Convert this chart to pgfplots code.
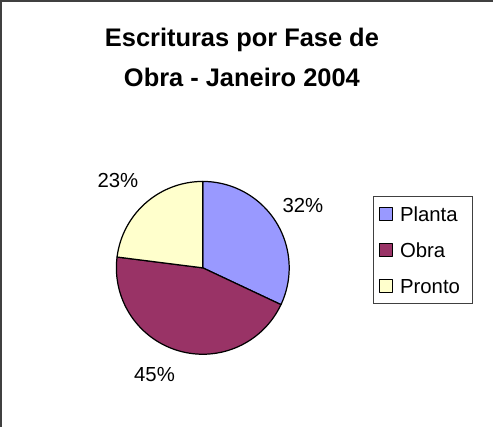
\documentclass[border=0pt]{standalone}
\usepackage{pgfplots}
\pgfplotsset{compat=1.18}
\usepackage{fontspec}
\setmainfont{Liberation Sans}

\begin{document}
\begin{tikzpicture}

	\definecolor{planta}{RGB}{153,153,255}
	\definecolor{obra}{RGB}{153,51,102}
	\definecolor{pronto}{RGB}{255,255,204}
	\definecolor{framegray}{RGB}{64,64,64}

	\begin{axis}[
		width=494pt, height=433pt, scale only axis,
		xmin=0, xmax=494, ymin=0, ymax=433,
		hide axis, clip=false,
		legend style={
			at={(0.7611,0.5312)}, anchor=north west,
			draw=framegray, line width=0.8pt,
			font=\fontsize{20}{24}\selectfont,
			inner xsep=5pt, inner ysep=8pt,
			row sep=17pt,
			nodes={inner ysep=2pt, inner xsep=7pt, text height=14.5pt, text depth=0pt},
			cells={anchor=west}
		},
		legend image code/.code={
			\draw[#1, draw=black, line width=1.2pt] (2pt,-6.5pt) rectangle (15pt,6.5pt);
		}
	]
	% pie: centre (208.5,159.5), radius 85, start at 12 o'clock, clockwise
	% Planta 32% -> 115.2 deg, Obra 45% -> 162 deg, Pronto 23% -> 82.8 deg
	\addplot [fill=planta, draw=black, line width=1.2pt, line join=round,
		domain=-25.2:90, samples=80, variable=\t]
		({208.5+85*cos(t)}, {159.5+85*sin(t)}) -- (axis cs:208.5,159.5) -- cycle;
	\addlegendentry{Planta}
	\addplot [fill=obra, draw=black, line width=1.2pt, line join=round,
		domain=-187.2:-25.2, samples=100, variable=\t]
		({208.5+85*cos(t)}, {159.5+85*sin(t)}) -- (axis cs:208.5,159.5) -- cycle;
	\addlegendentry{Obra}
	\addplot [fill=pronto, draw=black, line width=1.2pt, line join=round,
		domain=-270:-187.2, samples=70, variable=\t]
		({208.5+85*cos(t)}, {159.5+85*sin(t)}) -- (axis cs:208.5,159.5) -- cycle;
	\addlegendentry{Pronto}

	\node[font=\fontsize{20}{24}\selectfont] at (axis cs:307,221) {32\%};
	\node[font=\fontsize{20}{24}\selectfont] at (axis cs:161,55) {45\%};
	\node[font=\fontsize{20}{24}\selectfont] at (axis cs:125,245) {23\%};

	\node[font=\bfseries\fontsize{25}{39}\selectfont, align=center]
		at (axis cs:247,366.5) {Escrituras por Fase de\\Obra - Janeiro 2004};

	\draw[framegray, line width=2pt] (axis cs:494,422) -- (axis cs:10,422) -- (axis cs:10,3);
	\end{axis}

\end{tikzpicture}
\end{document}
